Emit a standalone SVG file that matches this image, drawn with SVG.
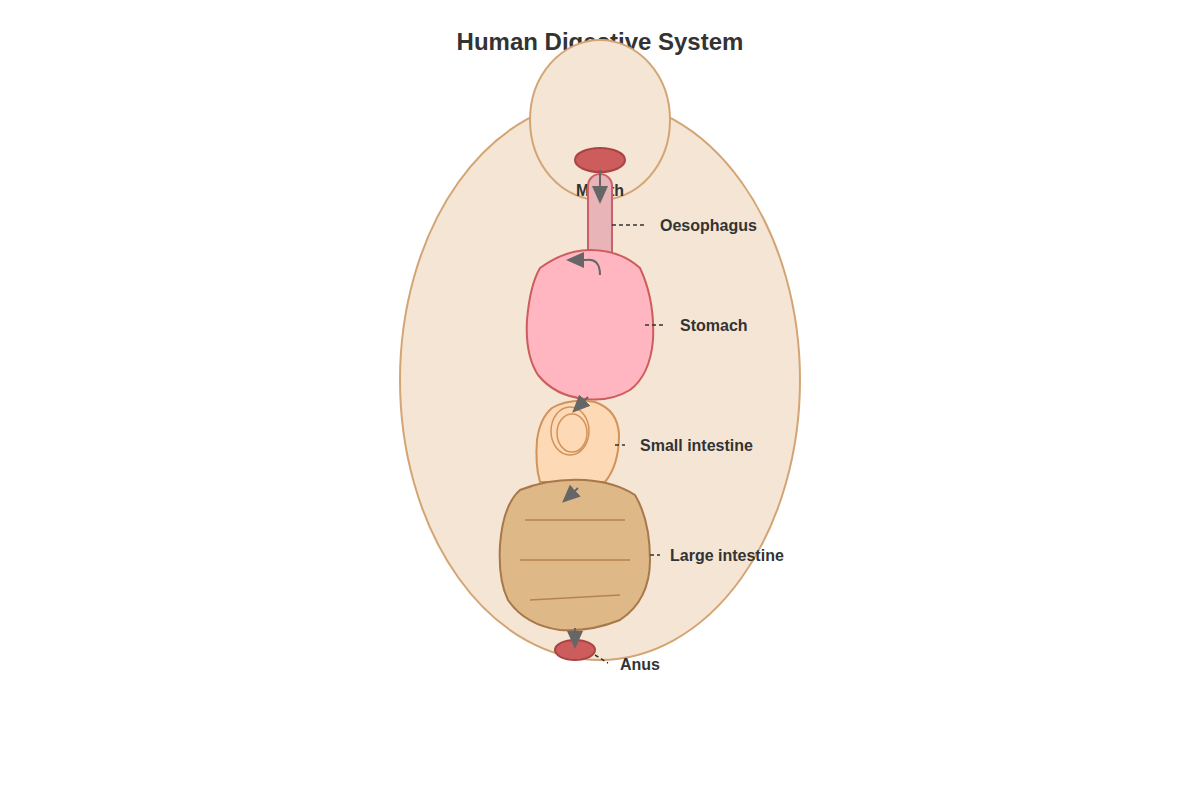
<svg xmlns="http://www.w3.org/2000/svg" width="1200" height="800" viewBox="0 0 1200 800">
<style>
.t{font-family:"Liberation Sans",Arial,sans-serif;font-weight:bold;fill:#333}
.lbl{font-size:16px}
.ld{stroke:#333;stroke-width:1.5;stroke-dasharray:4 3;fill:none}
.ar{stroke:#666;stroke-width:2;fill:none}
</style>
<defs>
<marker id="ah" markerWidth="8" markerHeight="8" refX="6" refY="4" orient="auto" markerUnits="userSpaceOnUse" viewBox="0 0 8 8"><path d="M0,0 L8,4 L0,8 Z" fill="#666"/></marker>
<marker id="ahb" markerWidth="18" markerHeight="18" refX="14" refY="9" orient="auto" markerUnits="userSpaceOnUse" viewBox="0 0 18 18"><path d="M0,1 L18,9 L0,17 Z" fill="#666"/></marker>
</defs>
<rect width="1200" height="800" fill="#fff"/>
<text class="t" x="600" y="50" text-anchor="middle" font-size="24">Human Digestive System</text>
<g id="body">
<ellipse cx="600" cy="380" rx="200" ry="280" fill="#f5e5d4" stroke="#d4a574" stroke-width="2"/>
<ellipse cx="600" cy="120" rx="70" ry="80" fill="#f5e5d4" stroke="#d4a574" stroke-width="2"/>
</g>
<g id="mouth">
<ellipse cx="600" cy="160" rx="25" ry="12" fill="#cd5c5c" stroke="#a94442" stroke-width="2"/>
<text class="t lbl" x="600" y="196" text-anchor="middle">Mouth</text>
</g>
<g id="oesophagus">
<path d="M588,258 V186 A12,12 0 0 1 612,186 V258 Z" fill="#e8b4b8" stroke="#c9606a" stroke-width="2"/>
<text class="t lbl" x="660" y="231">Oesophagus</text>
</g>
<g id="stomach">
<path d="M540,268 Q565,250 590,250 Q620,250 640,268 Q655,300 653,340 Q650,375 630,390 Q610,402 585,399 Q555,396 538,375 Q525,355 527,320 Q530,285 540,268 Z" fill="#ffb6c1" stroke="#cd5c5c" stroke-width="2"/>
<text class="t lbl" x="680" y="331">Stomach</text>
</g>
<g id="small-intestine">
<path d="M552,408 Q570,398 595,402 Q618,410 619,435 Q619,465 605,482 L540,482 Q535,465 537,440 Q540,418 552,408 Z" fill="#fdd9b5" stroke="#d2935a" stroke-width="2"/>
<ellipse cx="570" cy="431" rx="19" ry="24" fill="none" stroke="#d2935a" stroke-width="1.5"/>
<ellipse cx="572" cy="433" rx="15" ry="19" fill="none" stroke="#d2935a" stroke-width="1.5"/>
<text class="t lbl" x="640" y="451">Small intestine</text>
</g>
<g id="large-intestine">
<path d="M520,490 Q550,478 585,480 Q615,482 635,495 Q650,520 650,560 Q650,600 620,620 Q590,632 560,630 Q525,625 508,600 Q498,580 500,545 Q503,505 520,490 Z" fill="#deb887" stroke="#a8774a" stroke-width="2"/>
<path d="M525,520 H625 M520,560 H630 M530,600 L620,595" stroke="#b5834f" stroke-width="1.5" fill="none"/>
<text class="t lbl" x="670" y="561">Large intestine</text>
</g>
<g id="anus">
<ellipse cx="575" cy="650" rx="20" ry="10" fill="#cd5c5c" stroke="#a94442" stroke-width="2"/>
<text class="t lbl" x="620" y="670">Anus</text>
</g>
<g id="connectors">
<path class="ld" d="M612,225 H645"/>
<path class="ld" d="M645,325 H665"/>
<path class="ld" d="M615,445 H625"/>
<path class="ld" d="M650,555 H660"/>
<path class="ld" d="M595,655 L608,663"/>
<path class="ar" d="M600,170 V200" marker-end="url(#ahb)"/>
<path class="ar" d="M600,275 Q600,258 586,260 L570,260" marker-end="url(#ahb)"/>
<path class="ar" d="M588,397 L575,410" marker-end="url(#ahb)"/>
<path class="ar" d="M578,488 L565,500" marker-end="url(#ahb)"/>
<path class="ar" d="M575,628 L575,645" marker-end="url(#ahb)"/>
</g>
</svg>
